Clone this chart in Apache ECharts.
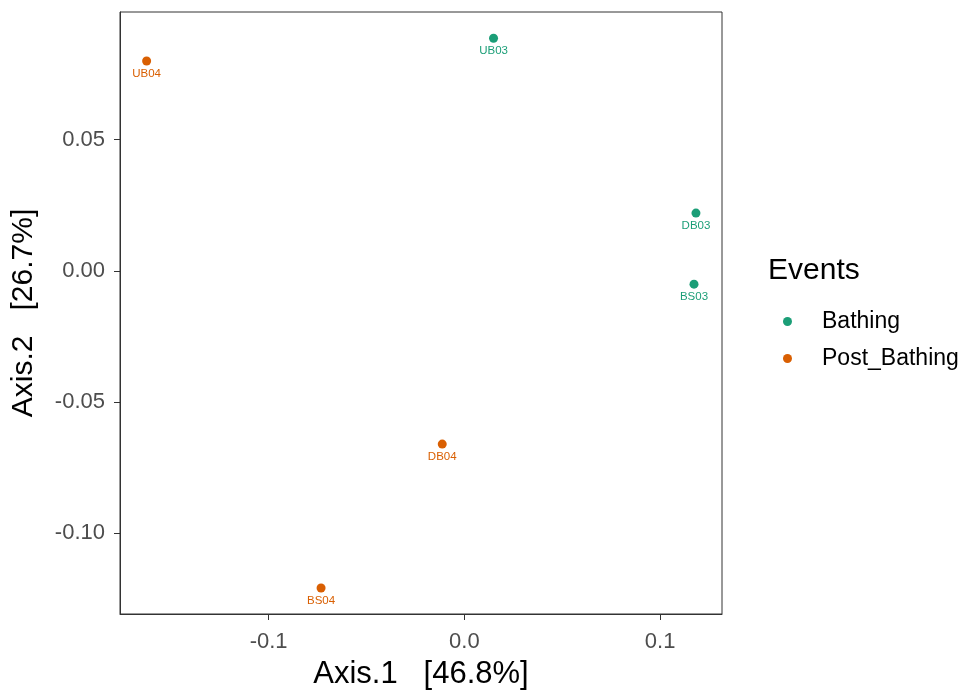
<!DOCTYPE html>
<html>
<head>
<meta charset="utf-8">
<script src="https://cdn.jsdelivr.net/npm/echarts@6/dist/echarts.min.js"></script>
<style>
  html, body { margin: 0; padding: 0; background: #fff; }
  #chart { width: 968px; height: 695px; }
</style>
</head>
<body>
<div id="chart"></div>
<script>
// PCoA ordination: samples per event group
const bathingNames = ['UB03', 'DB03', 'BS03'];
const bathingAxis1 = [0.0149, 0.1183, 0.1173];
const bathingAxis2 = [0.0887, 0.0220, -0.0051];

const postNames = ['UB04', 'DB04', 'BS04'];
const postAxis1 = [-0.1623, -0.0113, -0.0732];
const postAxis2 = [0.0800, -0.0661, -0.1210];

const xTicks = [-0.1, 0.0, 0.1];
const yTicks = [-0.10, -0.05, 0.00, 0.05];

const groups = ['Bathing', 'Post_Bathing'];
const colors = ['#1B9E77', '#D95F02'];

const FONT = 'Liberation Sans, Arial, sans-serif';

function toPoints(names, xs, ys) {
  return names.map((n, i) => ({ name: n, value: [xs[i], ys[i]] }));
}

function scatterSeries(name, color, data) {
  return {
    name: name,
    type: 'scatter',
    symbol: 'circle',
    symbolSize: 9,
    itemStyle: { color: color, opacity: 1 },
    data: data,
    label: {
      show: true,
      position: 'bottom',
      distance: 2,
      formatter: p => p.name,
      color: color,
      fontSize: 11.5,
      fontFamily: FONT
    },
    emphasis: { disabled: true }
  };
}

const chart = echarts.init(document.getElementById('chart'), null, { renderer: 'canvas' });

chart.setOption({
  animation: false,
  backgroundColor: '#ffffff',
  grid: { left: 120, right: 246, top: 12, bottom: 81, containLabel: false,
          show: true, borderColor: '#333333', borderWidth: 1 },
  title: {
    text: 'Events',
    left: 763, top: 251,
    textStyle: { fontFamily: FONT, fontSize: 30, fontWeight: 'normal', color: '#000' }
  },
  legend: {
    data: groups,
    orient: 'vertical',
    left: 778, top: 305,
    itemWidth: 9, itemHeight: 9,
    itemGap: 14,
    icon: 'circle',
    textStyle: { fontFamily: FONT, fontSize: 23, color: '#000', padding: [0, 0, 0, 25] }
  },
  xAxis: {
    type: 'value',
    min: -0.1759, max: 0.1316,
    name: 'Axis.1   [46.8%]',
    nameLocation: 'middle',
    nameGap: 45,
    nameTextStyle: { fontFamily: FONT, fontSize: 31, color: '#000' },
    splitLine: { show: false },
    axisLine: { show: true, onZero: false, lineStyle: { color: '#333333', width: 1 } },
    axisTick: { show: true, length: 6, customValues: xTicks, lineStyle: { color: '#333333' } },
    axisLabel: {
      customValues: xTicks,
      formatter: v => v.toFixed(1),
      fontFamily: FONT, fontSize: 22, color: '#4D4D4D', margin: 17
    }
  },
  yAxis: {
    type: 'value',
    min: -0.1309, max: 0.0987,
    name: 'Axis.2   [26.7%]',
    nameLocation: 'middle',
    nameGap: 81,
    nameTextStyle: { fontFamily: FONT, fontSize: 30, color: '#000' },
    splitLine: { show: false },
    axisLine: { show: true, onZero: false, lineStyle: { color: '#333333', width: 1 } },
    axisTick: { show: true, length: 6, customValues: yTicks, lineStyle: { color: '#333333' } },
    axisLabel: {
      customValues: yTicks,
      formatter: v => v.toFixed(2),
      fontFamily: FONT, fontSize: 22, color: '#4D4D4D', margin: 15
    }
  },
  series: [
    scatterSeries(groups[0], colors[0], toPoints(bathingNames, bathingAxis1, bathingAxis2)),
    scatterSeries(groups[1], colors[1], toPoints(postNames, postAxis1, postAxis2))
  ]
});
</script>
</body>
</html>
